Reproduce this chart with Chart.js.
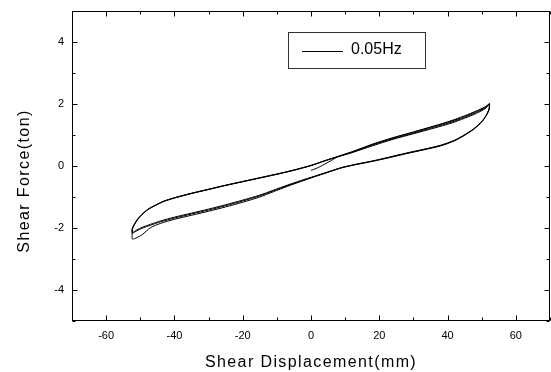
<!DOCTYPE html>
<html>
<head>
<meta charset="utf-8">
<script src="https://cdn.jsdelivr.net/npm/chart.js@4/dist/chart.umd.min.js"></script>
<style>
html,body{margin:0;padding:0;background:#fff;overflow:hidden}
canvas{display:block}
</style>
</head>
<body>
<canvas id="c" width="551" height="372"></canvas>
<script>
// ---- text ----
const seriesLabel = '0.05Hz';
const xTitle = 'Shear Displacement(mm)';
const yTitle = 'Shear Force(ton)';

// ---- ticks ----
const xMajorTicks = [-60, -40, -20, 0, 20, 40, 60];
const xMinorTicks = [-70, -50, -30, -10, 10, 30, 50, 70];
const yMajorTicks = [-4, -2, 0, 2, 4];
const yMinorTicks = [-5, -3, -1, 1, 3, 5];

// ---- data ----
// initial loading from the origin to the first positive peak
const initX = [0.0, 1.5, 3.0, 4.5, 6.0, 8.0, 12.0, 18.0, 24.0, 30.0, 36.0, 41.0, 45.0, 48.5, 51.0, 52.3];
const initY = [-0.14, -0.08, 0.00, 0.09, 0.18, 0.31, 0.46, 0.70, 0.91, 1.10, 1.29, 1.46, 1.62, 1.78, 1.91, 2.02];

// unloading branch (right peak -> left peak) displacements
const lowerX = [52.3, 52.2, 51.7, 50.8, 49.5, 47.5, 45.0, 42.0, 38.0, 33.0, 28.0, 23.0, 18.0, 13.0, 9.0, 5.0, 1.0, -3.0, -7.0, -11.0, -15.0, -20.0, -25.0, -30.0, -35.0, -40.0, -44.0, -47.0, -49.5, -51.0, -52.3];
const cycle1LowerY = [2.02, 1.86, 1.72, 1.55, 1.38, 1.19, 1.01, 0.83, 0.67, 0.54, 0.42, 0.29, 0.16, 0.05, -0.05, -0.20, -0.35, -0.50, -0.66, -0.83, -1.00, -1.17, -1.32, -1.46, -1.59, -1.72, -1.85, -1.99, -2.22, -2.31, -2.36];
const cycle2LowerY = [2.00, 1.85, 1.71, 1.54, 1.37, 1.18, 1.00, 0.82, 0.66, 0.53, 0.41, 0.28, 0.16, 0.05, -0.05, -0.19, -0.33, -0.47, -0.62, -0.78, -0.94, -1.10, -1.25, -1.39, -1.52, -1.65, -1.77, -1.88, -1.98, -2.06, -2.15];
const cycle3LowerY = [1.99, 1.84, 1.70, 1.53, 1.36, 1.17, 0.99, 0.81, 0.65, 0.52, 0.40, 0.27, 0.15, 0.04, -0.06, -0.20, -0.34, -0.49, -0.64, -0.80, -0.96, -1.13, -1.28, -1.42, -1.55, -1.68, -1.80, -1.91, -2.01, -2.09, -2.17];

// reloading branch (left peak -> right peak) displacements
const upperX = [-52.4, -52.3, -51.6, -50.7, -49.5, -47.8, -45.5, -43.0, -39.5, -35.0, -30.0, -25.0, -20.0, -15.0, -10.0, -5.0, 0.0, 4.0, 8.0, 12.0, 18.0, 24.0, 30.0, 36.0, 41.0, 45.0, 48.5, 51.0, 52.3];
const cycle1UpperY = [-2.30, -2.05, -1.87, -1.72, -1.57, -1.41, -1.27, -1.14, -1.02, -0.89, -0.76, -0.63, -0.51, -0.39, -0.27, -0.14, 0.01, 0.16, 0.30, 0.43, 0.65, 0.86, 1.04, 1.22, 1.38, 1.54, 1.70, 1.85, 1.99];
const cycle2UpperY = [-2.12, -1.99, -1.85, -1.70, -1.56, -1.40, -1.26, -1.13, -1.01, -0.88, -0.75, -0.62, -0.50, -0.38, -0.26, -0.13, 0.02, 0.17, 0.31, 0.44, 0.68, 0.88, 1.06, 1.25, 1.41, 1.57, 1.73, 1.87, 2.00];
const cycle3UpperY = [-2.14, -2.00, -1.86, -1.71, -1.56, -1.40, -1.26, -1.13, -1.01, -0.88, -0.75, -0.62, -0.50, -0.38, -0.26, -0.13, 0.02, 0.17, 0.31, 0.45, 0.70, 0.91, 1.09, 1.28, 1.44, 1.60, 1.76, 1.89, 2.01];

// ---- build the point table ----
function pts(xs, ys) { return xs.map((x, i) => ({x: x, y: ys[i]})); }
const points = [].concat(
  pts(initX, initY),
  pts(lowerX, cycle1LowerY), pts(upperX, cycle1UpperY),
  pts(lowerX, cycle2LowerY), pts(upperX, cycle2UpperY),
  pts(lowerX, cycle3LowerY), pts(upperX, cycle3UpperY)
);
const xAllTicks = xMajorTicks.concat(xMinorTicks).sort((a, b) => a - b);
const yAllTicks = yMajorTicks.concat(yMinorTicks).sort((a, b) => a - b);

const FONT = '"Liberation Sans", Arial, Helvetica, sans-serif';

const frameTicks = {
  id: 'frameTicks',
  afterDatasetsDraw(chart) {
    const {ctx, chartArea: a, scales: {x, y}} = chart;
    ctx.save();
    ctx.strokeStyle = '#000';
    ctx.lineWidth = 1;
    const L = Math.round(a.left) + 0.5, R = Math.round(a.right) - 0.5;
    const T = Math.round(a.top) + 0.5, B = Math.round(a.bottom) - 0.5;
    ctx.strokeRect(L, T, R - L, B - T);
    ctx.beginPath();
    x.ticks.forEach(t => {
      const len = xMajorTicks.includes(t.value) ? 5 : 3;
      const p = Math.round(x.getPixelForValue(t.value)) + 0.5;
      ctx.moveTo(p, B); ctx.lineTo(p, B - len);
      ctx.moveTo(p, T); ctx.lineTo(p, T + len);
    });
    y.ticks.forEach(t => {
      const len = yMajorTicks.includes(t.value) ? 5 : 3;
      const p = Math.round(y.getPixelForValue(t.value)) + 0.5;
      ctx.moveTo(L, p); ctx.lineTo(L + len, p);
      ctx.moveTo(R, p); ctx.lineTo(R - len, p);
    });
    ctx.stroke();
    ctx.restore();
  },
  afterDraw(chart) {
    const {ctx, chartArea: a} = chart;
    const ds = chart.data.datasets[0];
    ctx.save();
    // axis titles
    ctx.fillStyle = '#000';
    ctx.font = '16px ' + FONT;
    if ('letterSpacing' in ctx) ctx.letterSpacing = '1.4px';
    ctx.textAlign = 'center';
    ctx.textBaseline = 'middle';
    ctx.fillText(xTitle, (a.left + a.right) / 2, 362.5);
    ctx.save();
    ctx.translate(25, 181);
    ctx.rotate(-Math.PI / 2);
    ctx.fillText(yTitle, 0, 0);
    ctx.restore();
    // legend box
    if ('letterSpacing' in ctx) ctx.letterSpacing = '0px';
    ctx.strokeStyle = '#333';
    ctx.lineWidth = 1;
    ctx.strokeRect(288.5, 32.5, 137, 36);
    ctx.strokeStyle = ds.borderColor;
    ctx.beginPath();
    ctx.moveTo(302, 51.5); ctx.lineTo(343, 51.5);
    ctx.stroke();
    ctx.textAlign = 'left';
    ctx.fillText(ds.label, 351, 50);
    ctx.restore();
  }
};

new Chart(document.getElementById('c'), {
  type: 'scatter',
  data: {
    datasets: [{
      label: seriesLabel,
      data: points,
      showLine: true,
      borderColor: '#000',
      borderWidth: 1,
      pointRadius: 0,
      tension: 0.25,
      fill: false
    }]
  },
  options: {
    responsive: false,
    animation: false,
    devicePixelRatio: 1,
    layout: {padding: {top: 11, right: 1, bottom: 0, left: 0}},
    plugins: {legend: {display: false}, tooltip: {enabled: false}, title: {display: false}},
    scales: {
      x: {
        type: 'linear', position: 'bottom', min: -70, max: 70,
        afterBuildTicks: s => { s.ticks = xAllTicks.map(v => ({value: v})); },
        afterFit: s => { s.height = 51; s.paddingLeft = 0; s.paddingRight = 0; s.paddingTop = 0; s.paddingBottom = 0; },
        grid: {display: false, drawTicks: false},
        border: {display: false},
        ticks: {autoSkip: false, maxRotation: 0, padding: 8, color: '#000',
          font: {family: FONT, size: 11},
          callback: v => xMajorTicks.includes(v) ? String(v) : ''}
      },
      y: {
        type: 'linear', position: 'left', min: -5, max: 5,
        afterBuildTicks: s => { s.ticks = yAllTicks.map(v => ({value: v})); },
        afterFit: s => { s.width = 72; s.paddingLeft = 0; s.paddingRight = 0; s.paddingTop = 0; s.paddingBottom = 0; },
        grid: {display: false, drawTicks: false},
        border: {display: false},
        ticks: {autoSkip: false, padding: 8, color: '#000',
          font: {family: FONT, size: 11},
          callback: v => yMajorTicks.includes(v) ? String(v) : ''}
      }
    }
  },
  plugins: [frameTicks]
});
</script>
</body>
</html>
